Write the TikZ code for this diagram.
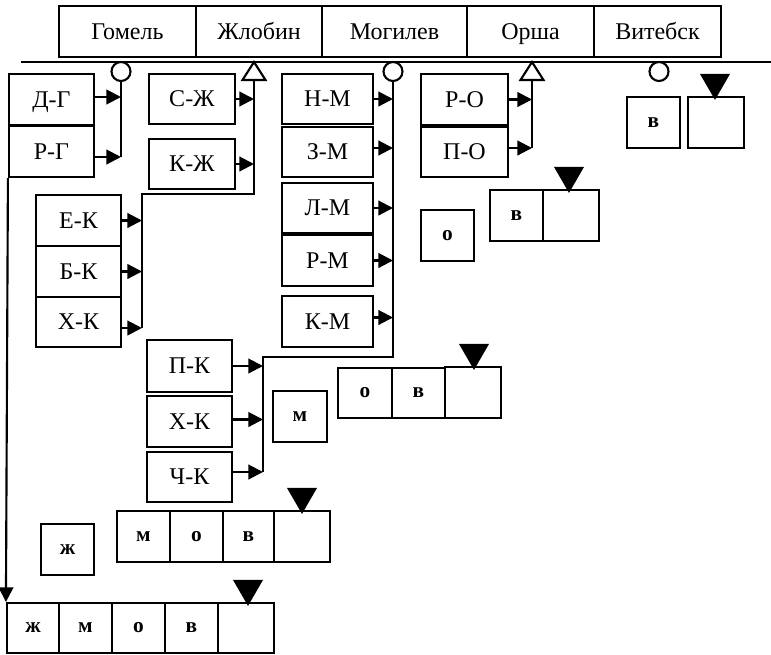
\documentclass[tikz,border=0pt]{standalone}
\usepackage{fontspec}
\setmainfont{Liberation Serif}
\usetikzlibrary{arrows.meta,calc}
\begin{document}
\begin{tikzpicture}[x=0.75pt,y=-0.75pt,
  lw/.style={line width=1.6pt},
  box/.style={draw, lw, inner sep=0pt, font=\fontsize{18}{20}\selectfont, text height=11.9pt, text depth=0pt},
  sq/.style={draw, lw, inner sep=0pt, font=\bfseries\fontsize{16}{18}\selectfont, text height=7.3pt, text depth=0pt},
  wh/.style 2 args={minimum width=#1*0.75pt, minimum height=#2*0.75pt},
  arr/.style={lw, -{Triangle[length=11pt,width=11pt]}},
  ring/.style={circle, draw, lw, fill=white, minimum size=19*0.75pt, inner sep=0pt},
  otri/.style={lw, fill=white},
  ftri/.style={fill=black}]
\useasboundingbox (0,0) rectangle (771,654);

% cities
\node[box, wh={137}{51}] (gom) at (127.5,31.5) {Гомель};
\node[box, wh={126}{51}] (zhl) at (259,31.5) {Жлобин};
\node[box, wh={145}{51}] (mog) at (394.5,31.5) {Могилев};
\node[box, wh={127}{51}] (ors) at (530.5,31.5) {Орша};
\node[box, wh={127}{51}] (vit) at (657.5,31.5) {Витебск};

\coordinate (L1) at (21,62);
\coordinate (L2) at (771,62);
\draw[lw] (L1) -- (L2);

% markers
\node[ring] (gomC) at (121,71.5) {};
\node[ring] (mogC) at (393,71.5) {};
\node[ring] (vitC) at (659,71.5) {};
\coordinate (zT) at (254,80);
\coordinate (oT) at (532,80);
\draw[otri] (zT) ++(0,-18) -- ++(11.5,18) -- ++(-23,0) -- cycle;
\draw[otri] (oT) ++(0,-18) -- ++(11.5,18) -- ++(-23,0) -- cycle;

% Gomel group
\node[box, wh={85}{51}] (dg) at (51.5,99.5) {Д-Г};
\node[box, wh={85}{51}] (rg) at (51.5,151.5) {Р-Г};
\coordinate (gA) at (121,97);
\coordinate (gB) at (121,157);
\draw[lw] (gomC.south) -- (gB);
\draw[arr] (dg.east |- gA) -- (gA);
\draw[arr] (rg.east |- gB) -- (gB);

% Zhlobin group
\node[box, wh={86}{50}] (sz) at (192,99) {С-Ж};
\node[box, wh={86}{50}] (kz) at (192,164) {К-Ж};
\node[box, wh={85}{51}] (ek) at (78.5,220.5) {Е-К};
\node[box, wh={85}{51}] (bk) at (78.5,271.5) {Б-К};
\node[box, wh={85}{50}] (hk) at (78.5,322) {Х-К};
\coordinate (z1) at (254,194);
\coordinate (z2) at (142,194);
\coordinate (z3) at (142,328);
\draw[lw] (zT) -- (z1) -- (z2) -- (z3);
\draw[arr] (sz.east) -- (sz.east -| zT);
\draw[arr] (kz.east) -- (kz.east -| zT);
\draw[arr] (ek.east) -- (ek.east -| z2);
\draw[arr] (bk.east) -- (bk.east -| z2);
\draw[arr] (hk.east |- z3) -- (z3);

% Mogilev group
\node[box, wh={91}{50}] (nm) at (327.5,99) {Н-М};
\node[box, wh={91}{50}] (zm) at (327.5,152) {З-М};
\node[box, wh={91}{50}] (lm) at (327.5,208) {Л-М};
\node[box, wh={91}{51}] (rm) at (327.5,260.5) {Р-М};
\node[box, wh={91}{51}] (km) at (327.5,321.5) {К-М};
\node[box, wh={85}{52}] (pk) at (189.5,366) {П-К};
\node[box, wh={85}{51}] (hk2) at (189.5,421.5) {Х-К};
\node[box, wh={85}{50}] (ck) at (189.5,477) {Ч-К};
\coordinate (m1) at (393,357);
\coordinate (m2) at (263,357);
\coordinate (m3) at (263,472);
\draw[lw] (mogC.south) -- (m1) -- (m2) -- (m3);
\draw[arr] (nm.east) -- (nm.east -| m1);
\draw[arr] ($(zm.east)+(0,-4)$) -- ($(zm.east -| m1)+(0,-4)$);
\draw[arr] (lm.east) -- (lm.east -| m1);
\draw[arr] (rm.east) -- (rm.east -| m1);
\draw[arr] ($(km.east)+(0,-4)$) -- ($(km.east -| m1)+(0,-4)$);
\draw[arr] (pk.east) -- (pk.east -| m2);
\draw[arr] ($(hk2.east)+(0,-2)$) -- ($(hk2.east -| m2)+(0,-2)$);
\draw[arr] (ck.east |- m3) -- (m3);
\node[sq, wh={54}{51}] (mbox) at (300,416.5) {м};

% Orsha group
\node[box, wh={87}{51}] (ro) at (464.5,99.5) {Р-О};
\node[box, wh={87}{50}] (po) at (464.5,152) {П-О};
\coordinate (o3) at (532,148);
\draw[lw] (oT) -- (o3);
\draw[arr] (ro.east) -- (ro.east -| oT);
\draw[arr] (po.east |- o3) -- (o3);
\node[sq, wh={53}{51}] (o1) at (447.5,235.5) {о};
\node[sq, wh={53}{51}] (v1) at (516.5,215.5) {в};
\node[sq, wh={56}{51}] (e1) at (571,215.5) {};
\fill[ftri] ($(e1.north)+(-2,4)$) -- ++(-15,-26) -- ++(30,0) -- cycle;

\node[sq, wh={54}{50}] (o2) at (365,393) {о};
\node[sq, wh={53}{50}] (v2) at (418.5,393) {в};
\node[sq, wh={56}{51}] (e2) at (473,392.5) {};
\fill[ftri] ($(e2.north)+(1,4)$) -- ++(-15,-26) -- ++(30,0) -- cycle;

% Vitebsk
\node[sq, wh={53}{51}] (v3) at (653.5,122.5) {в};
\node[sq, wh={56}{51}] (e3) at (716,122.5) {};
\fill[ftri] ($(e3.north)+(-1,4)$) -- ++(-15,-26) -- ++(30,0) -- cycle;

% row m o v
\node[sq, wh={53}{51}] (m4) at (143.5,536.5) {м};
\node[sq, wh={53}{51}] (o4) at (196.5,536.5) {о};
\node[sq, wh={51}{51}] (v4) at (248.5,536.5) {в};
\node[sq, wh={56}{51}] (e4) at (302,536.5) {};
\fill[ftri] ($(e4.north)+(0,4)$) -- ++(-15,-26) -- ++(30,0) -- cycle;

\node[sq, wh={53}{51}] (zh1) at (67.5,549.5) {ж};

% row zh m o v
\node[sq, wh={52}{50}] (zh5) at (33,628) {ж};
\node[sq, wh={53}{50}] (m5) at (85.5,628) {м};
\node[sq, wh={53}{50}] (o5) at (138.5,628) {о};
\node[sq, wh={53}{50}] (v5) at (191.5,628) {в};
\node[sq, wh={56}{50}] (e5) at (246,628) {};
\fill[ftri] ($(e5.north)+(2,4)$) -- ++(-15,-26) -- ++(30,0) -- cycle;

\draw[arr] (rg.south west) -- (zh5.north west);
\end{tikzpicture}
\end{document}
